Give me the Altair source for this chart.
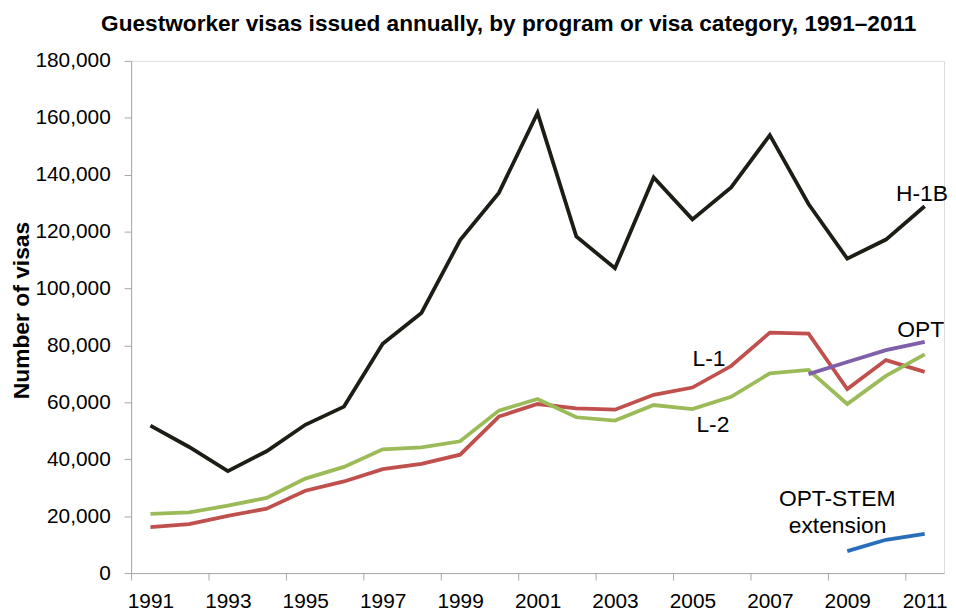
import altair as alt
import pandas as pd

years = list(range(1991, 2012))
h1b = [51800, 44300, 35800, 42800, 52100, 58500, 80600, 91400, 117000, 133600, 161700,
       118300, 107100, 139000, 124300, 135500, 153900, 129700, 110500, 117200, 128900]
l1 = [16150, 17200, 20100, 22650, 28950, 32200, 36500, 38350, 41600, 55000, 59400,
      57900, 57400, 62650, 65200, 72750, 84500, 84150, 64650, 74850, 70700]
l2 = [20800, 21300, 23700, 26400, 33200, 37300, 43500, 44200, 46300, 57100, 61150,
      54750, 53600, 59050, 57650, 61950, 70200, 71400, 59400, 69300, 76850]
opt_years = [2008, 2009, 2010, 2011]
opt = [69900, 74150, 78350, 81250]
stem_years = [2009, 2010, 2011]
stem = [7700, 11700, 13800]

series_names = ["H-1B", "L-1", "L-2", "OPT", "OPT-STEM"]
series_colors = ["#1d1d16", "#c0504d", "#9bbb59", "#7f5fa9", "#2a6ebb"]

label_text = ["H-1B", "OPT", "L-1", "L-2", "OPT-STEM", "extension"]
label_year = [2010.93, 2010.9, 2005.43, 2005.53, 2008.74, 2008.75]
label_value = [130900, 83100, 72650, 49650, 23500, 14050]

rows = []
for y, v in zip(years, h1b):
    rows.append({"year": y, "value": v, "series": "H-1B"})
for y, v in zip(years, l1):
    rows.append({"year": y, "value": v, "series": "L-1"})
for y, v in zip(years, l2):
    rows.append({"year": y, "value": v, "series": "L-2"})
for y, v in zip(opt_years, opt):
    rows.append({"year": y, "value": v, "series": "OPT"})
for y, v in zip(stem_years, stem):
    rows.append({"year": y, "value": v, "series": "OPT-STEM"})
df = pd.DataFrame(rows)

labels = pd.DataFrame({"text": label_text, "year": label_year, "value": label_value})

FONT = "Liberation Sans"

x = alt.X("year:Q", scale=alt.Scale(domain=[1990.5, 2011.5], nice=False, zero=False),
          axis=alt.Axis(values=list(range(1991, 2012, 2)), format="d", title=None,
                        tickOffset=-19.5, labelOffset=19.5, tickSize=7, grid=False,
                        labelFontSize=21, labelFont=FONT, labelColor="#000000",
                        labelPadding=11, domainColor="#a6a6a6", tickColor="#a6a6a6",
                        labelFlush=False, labelOverlap=False))
y = alt.Y("value:Q", scale=alt.Scale(domain=[0, 180000], nice=False),
          axis=alt.Axis(values=list(range(0, 180001, 20000)), format=",d",
                        title="Number of visas", titleFont=FONT, titleFontSize=23,
                        titleFontWeight="bold", titleColor="#000000",
                        titleX=-103, titleY=251, titleAngle=270, titleAlign="center",
                        titleBaseline="alphabetic",
                        tickSize=7, grid=False, labelFontSize=21, labelFont=FONT,
                        labelColor="#000000", labelPadding=14,
                        domainColor="#a6a6a6", tickColor="#a6a6a6"))

lines = alt.Chart(df).mark_line(strokeWidth=3.8, strokeJoin="miter").encode(
    x=x, y=y,
    color=alt.Color("series:N", scale=alt.Scale(domain=series_names, range=series_colors),
                    legend=None),
    detail="series:N",
)

text = alt.Chart(labels).mark_text(font=FONT, fontSize=23, color="#000000",
                                   align="center", baseline="alphabetic").encode(
    x="year:Q", y="value:Q", text="text:N")

chart = alt.layer(lines, text).properties(
    width=819, height=516,
    title=alt.TitleParams("Guestworker visas issued annually, by program or visa category, 1991–2011",
                          font=FONT, fontSize=22.8, fontWeight="bold", color="#000000",
                          anchor="middle", dx=-29, offset=14),
    autosize=alt.AutoSizeParams(type="none"),
    padding={"left": 124, "top": 51, "right": 4, "bottom": 41},
).configure_view(stroke=None).configure(background="#ffffff")

chart.save("out.html", embed_options={"renderer": "svg", "actions": False})
